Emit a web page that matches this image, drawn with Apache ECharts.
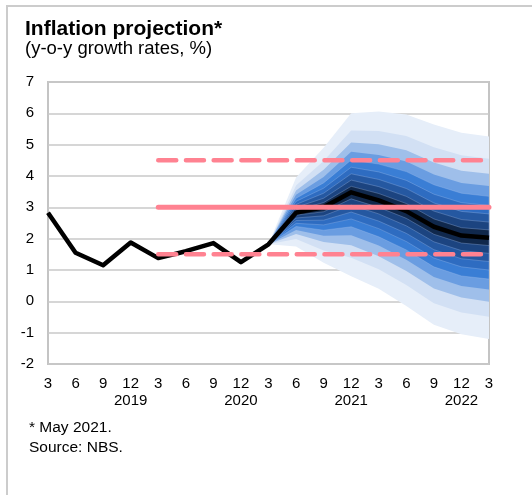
<!DOCTYPE html>
<html><head><meta charset="utf-8">
<script src="https://cdn.jsdelivr.net/npm/echarts@6/dist/echarts.min.js"></script>
<style>html,body{margin:0;padding:0;background:#fff}#c{width:532px;height:495px}</style>
</head><body><div id="c"></div><script>
const N = null;
const months = ['3','6','9','12','3','6','9','12','3','6','9','12','3','6','9','12','3'];
const years = ['','','','2019','','','','2020','','','','2021','','','','2022',''];
const inflation = [2.83,1.55,1.15,1.88,1.38,1.6,1.86,1.25,1.82,2.83,3.0,3.48,3.22,2.88,2.38,2.1,2.03];
const target = [N,N,N,N,3,3,3,3,3,3,3,3,3,3,3,3,3];
const targetUpper = [N,N,N,N,4.5,4.5,4.5,4.5,4.5,4.5,4.5,4.5,4.5,4.5,4.5,4.5,4.5];
const targetLower = [N,N,N,N,1.5,1.5,1.5,1.5,1.5,1.5,1.5,1.5,1.5,1.5,1.5,1.5,1.5];
// fan chart band bounds (10% ... 90% intervals)
const up10 = [N,N,N,N,N,N,N,N,1.82,2.92,3.15,3.67,3.44,3.12,2.63,2.35,2.28];
const lo10 = [N,N,N,N,N,N,N,N,1.82,2.75,2.86,3.27,3.00,2.65,2.14,1.86,1.78];
const up20 = [N,N,N,N,N,N,N,N,1.82,3.00,3.29,3.87,3.66,3.35,2.88,2.61,2.53];
const lo20 = [N,N,N,N,N,N,N,N,1.82,2.66,2.73,3.07,2.79,2.41,1.90,1.62,1.53];
const up30 = [N,N,N,N,N,N,N,N,1.82,3.09,3.45,4.07,3.89,3.60,3.14,2.87,2.79];
const lo30 = [N,N,N,N,N,N,N,N,1.82,2.58,2.59,2.85,2.56,2.17,1.65,1.36,1.27];
const up40 = [N,N,N,N,N,N,N,N,1.82,3.19,3.61,4.28,4.13,3.86,3.42,3.15,3.06];
const lo40 = [N,N,N,N,N,N,N,N,1.82,2.49,2.44,2.63,2.32,1.91,1.38,1.10,1.00];
const up50 = [N,N,N,N,N,N,N,N,1.82,3.29,3.78,4.51,4.38,4.14,3.72,3.45,3.35];
const lo50 = [N,N,N,N,N,N,N,N,1.82,2.39,2.27,2.38,2.06,1.64,1.10,0.81,0.71];
const up60 = [N,N,N,N,N,N,N,N,1.82,3.40,3.97,4.77,4.67,4.46,4.05,3.78,3.68];
const lo60 = [N,N,N,N,N,N,N,N,1.82,2.28,2.09,2.11,1.78,1.33,0.78,0.49,0.38];
const up70 = [N,N,N,N,N,N,N,N,1.82,3.54,4.20,5.07,5.01,4.82,4.43,4.17,4.07];
const lo70 = [N,N,N,N,N,N,N,N,1.82,2.15,1.89,1.79,1.44,0.97,0.41,0.12,-0.01];
const up80 = [N,N,N,N,N,N,N,N,1.82,3.70,4.48,5.45,5.44,5.28,4.92,4.66,4.55];
const lo80 = [N,N,N,N,N,N,N,N,1.82,1.99,1.62,1.39,1.02,0.52,-0.06,-0.36,-0.49];
const up90 = [N,N,N,N,N,N,N,N,1.82,3.95,4.90,6.00,6.06,5.96,5.64,5.38,5.26];
const lo90 = [N,N,N,N,N,N,N,N,1.82,1.75,1.23,0.80,0.40,-0.15,-0.75,-1.05,-1.20];

const FONT = "'Liberation Sans', Arial, sans-serif";
const bands = [
  [up90, lo90, '#e6eef9', false],
  [up80, lo80, '#d2e0f4', false],
  [up70, lo70, '#9fbfea', false],
  [up60, lo60, '#6a9de1', false],
  [up50, lo50, '#3a7ed5', true],
  [up40, lo40, '#2e6cc1', true],
  [up30, lo30, '#2558a1', true],
  [up20, lo20, '#1c4480', true],
  [up10, lo10, '#10284c', true]
];
const fanSeries = bands.map(b => ({
  type: 'custom', z: 2, silent: true, data: [[0, 0]],
  renderItem: (params, api) => {
    const pts = [];
    for (let i = 0; i < b[0].length; i++) if (b[0][i] != null) pts.push(api.coord([i, b[0][i]]));
    for (let i = b[1].length - 1; i >= 0; i--) if (b[1][i] != null) pts.push(api.coord([i, b[1][i]]));
    return { type: 'polygon', shape: { points: pts },
      style: { fill: b[2], stroke: b[3] ? 'rgba(170,195,235,0.45)' : null, lineWidth: b[3] ? 0.7 : 0 } };
  }
}));

const pink = '#ff8291';
const chart = echarts.init(document.getElementById('c'), null, { renderer: 'canvas' });
chart.setOption({
  animation: false,
  backgroundColor: '#fff',
  graphic: [
    { type: 'rect', z: 0, shape: { x: 7, y: 6, width: 540, height: 500 }, style: { fill: 'none', stroke: '#cccccc', lineWidth: 2 } },
    { type: 'text', left: 25, top: 19, style: { text: 'Inflation projection*', font: 'bold 21px ' + FONT, fill: '#000' } },
    { type: 'text', left: 25, top: 39, style: { text: '(y-o-y growth rates, %)', font: '18.5px ' + FONT, fill: '#000' } },
    { type: 'text', left: 29, top: 420, style: { text: '* May 2021.', font: '15.5px ' + FONT, fill: '#000' } },
    { type: 'text', left: 29, top: 440, style: { text: 'Source: NBS.', font: '15.5px ' + FONT, fill: '#000' } }
  ],
  grid: { left: 48, right: 43, top: 82, bottom: 131, show: true, borderColor: '#c4c4c4', borderWidth: 2, outerBoundsMode: 'none' },
  xAxis: {
    type: 'category', data: months, boundaryGap: false,
    axisLine: { show: false }, axisTick: { show: false }, splitLine: { show: false },
    axisLabel: { interval: 0, color: '#000', fontSize: 15, fontFamily: FONT, margin: 11, lineHeight: 17,
      formatter: (v, i) => years[i] ? v + '\n' + years[i] : v }
  },
  yAxis: {
    type: 'value', min: -2, max: 7, interval: 1,
    axisLine: { show: false }, axisTick: { show: false },
    splitLine: { lineStyle: { color: '#c8c8c8', width: 1.5 } },
    axisLabel: { color: '#000', fontSize: 15, fontFamily: FONT, margin: 14 }
  },
  series: fanSeries.concat([
    { type: 'line', z: 5, data: inflation, showSymbol: false, lineStyle: { color: '#000', width: 4.5, join: 'round' } },
    { type: 'line', z: 6, data: target, showSymbol: false, lineStyle: { color: pink, width: 5, cap: 'round' } },
    { type: 'line', z: 6, data: targetUpper, showSymbol: false, lineStyle: { color: pink, width: 4.5, cap: 'round', type: [18, 9.7] } },
    { type: 'line', z: 6, data: targetLower, showSymbol: false, lineStyle: { color: pink, width: 4.5, cap: 'round', type: [18, 9.7] } }
  ])
});
</script></body></html>
